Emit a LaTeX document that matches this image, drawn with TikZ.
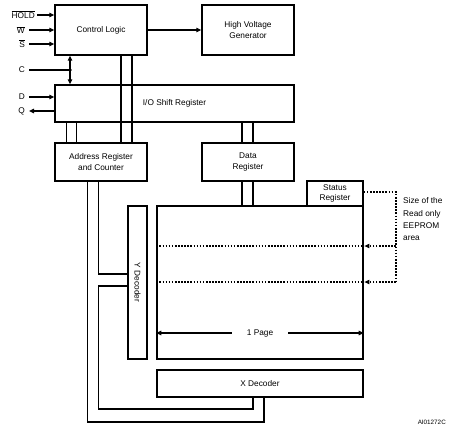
\documentclass[tikz,border=0pt]{standalone}
\usepackage{fontspec}
\setmainfont{Liberation Sans}
\usetikzlibrary{arrows.meta}
\newcommand\ovl[1]{$\overline{\mbox{#1}}$}
\begin{document}
\begin{tikzpicture}[x=1pt,y=-1pt,
  box/.style={draw, line width=1.4pt, inner sep=0pt, align=center, font=\fontsize{8.3}{10.3}\selectfont},
  lbl/.style={inner sep=0pt, font=\fontsize{8.3}{10}\selectfont},
  wire/.style={line width=1.4pt},
  tip/.tip={Triangle[length=5pt,width=4.5pt]},
  arr/.style={line width=1.4pt, -tip},
  dots/.style={line width=1.6pt, dash pattern=on 1.6pt off 1.5pt}
]
\useasboundingbox (0,0) rectangle (450,429);
% blocks
\node[box, minimum width=92pt, minimum height=50pt] (cl) at (101,30) {Control Logic};
\node[box, minimum width=92pt, minimum height=50pt] (hvg) at (248,30) {High Voltage\\Generator};
\node[box, minimum width=239pt, minimum height=37pt] (io) at (174.5,103.5) {I/O Shift Register};
\node[box, minimum width=92pt, minimum height=38pt] (addr) at (101,162) {Address Register\\and Counter};
\node[box, minimum width=92pt, minimum height=38pt] (data) at (248,162) {Data\\Register};
\node[box, minimum width=206pt, minimum height=153pt] (mem) at (260,282.5) {};
\node[box, minimum width=19pt, minimum height=153pt] (ydec) at (137.5,282.5) {};
\node[lbl, rotate=-90] (ylab) at (ydec.center) {Y Decoder};
\node[box, minimum width=56pt, minimum height=25pt] (status) at (335,193.5) {Status\\Register};
\node[box, minimum width=206pt, minimum height=27pt] (xdec) at (260,383.5) {X Decoder};
% inputs
\node[lbl, anchor=east] (hold) at (35,15) {\ovl{HOLD}};
\node[lbl, anchor=east] (w) at (25,30) {\ovl{W}};
\node[lbl, anchor=east] (s) at (25,44) {\ovl{S}};
\node[lbl, anchor=east] (c) at (25,70) {C};
\node[lbl, anchor=east] (d) at (25,97) {D};
\node[lbl, anchor=east] (q) at (25,111) {Q};
\coordinate (holdin) at (37,15);
\coordinate (win) at (29,30);
\coordinate (sin) at (29,44);
\coordinate (cin) at (29,70);
\coordinate (din) at (29,97);
\coordinate (qout) at (29,111);
\coordinate (cj) at (70,70);
\draw[arr] (holdin) -- (holdin -| cl.west);
\draw[arr] (win) -- (win -| cl.west);
\draw[arr] (sin) -- (sin -| cl.west);
\draw[wire] (cin) -- (cj);
\fill (cj) circle (1.9pt);
\draw[line width=1.4pt, tip-tip] (cj |- cl.south) -- (cj |- io.north);
\draw[arr] (din) -- (din -| io.west);
\draw[arr] (qout -| io.west) -- (qout);
% control logic to HV generator
\draw[arr] (cl.east) -- (hvg.west);
% bus wires
\foreach \dx in {20,31} {
  \draw[wire] ([xshift=\dx pt]cl.south) -- ([xshift=\dx pt]cl.south |- io.south) ;
  \draw[wire] ([xshift=\dx pt]addr.north) -- ([xshift=\dx pt]addr.north |- io.south);
}
\foreach \dx in {12,22} {
  \draw[wire] ([xshift=\dx pt]addr.north west) -- ([xshift=\dx pt]addr.north west |- io.south);
}
\foreach \dx in {-6,5} {
  \draw[wire] ([xshift=\dx pt]data.north) -- ([xshift=\dx pt]data.north |- io.south);
  \draw[wire] ([xshift=\dx pt]data.south) -- ([xshift=\dx pt]data.south |- mem.north);
}
% address wires
\coordinate (a1) at ([xshift=44pt]addr.south west);
\coordinate (a2) at ([xshift=33pt]addr.south west);
\coordinate (y1) at (a1 |- 0,274);
\coordinate (y2) at (a1 |- 0,286);
\coordinate (b1) at (a1 |- 0,409);
\coordinate (b2) at (a2 |- 0,422);
\coordinate (x1) at (253,409);
\coordinate (x2) at (264,422);
\draw[wire] (a1) -- (y1) -- (y1 -| ydec.west);
\draw[wire] (y2 -| ydec.west) -- (y2) -- (b1) -- (x1) -- (x1 |- xdec.south);
\draw[wire] (a2) -- (b2) -- (x2) -- (x2 |- xdec.south);
% dotted read-only area
\coordinate (r0) at (396,192);
\coordinate (r1) at (396,246);
\coordinate (r2) at (396,282);
\draw[dots] (r1 -| mem.west) -- (r1 -| mem.east);
\draw[dots] (r2 -| mem.west) -- (r2 -| mem.east);
\draw[dots] (status.east |- r0) -- (r0) -- (r2);
\draw[dots] (r1) -- ([xshift=5pt]r1 -| mem.east);
\draw[dots] (r2) -- ([xshift=5pt]r2 -| mem.east);
\fill ([xshift=0.7pt]r1 -| mem.east) -- ++(5,-2.3) -- ++(0,4.6) -- cycle;
\fill ([xshift=0.7pt]r2 -| mem.east) -- ++(5,-2.3) -- ++(0,4.6) -- cycle;
\node[lbl, anchor=north west, align=left, font=\fontsize{8.3}{12.3}\selectfont] (ro) at (403,197.5) {Size of the\\Read only\\EEPROM\\area};
% page
\node[lbl] (page) at (260,333) {1 Page};
\draw[arr] ([xshift=-15pt]page.west) -- (page.west -| mem.west);
\draw[arr] ([xshift=15pt]page.east) -- (page.east -| mem.east);
\node[lbl, anchor=east, font=\fontsize{6.3}{7}\selectfont] (id) at (446,422) {AI01272C};
\end{tikzpicture}
\end{document}
